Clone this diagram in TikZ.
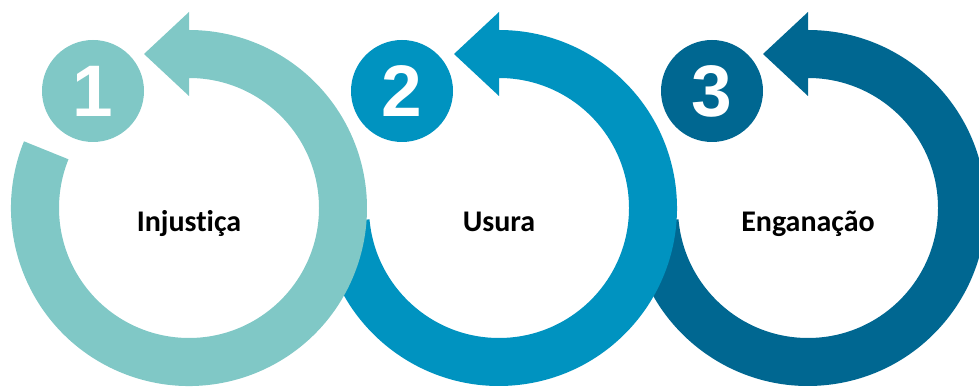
\documentclass[tikz,border=0pt]{standalone}
\usepackage{fontspec}
\setmainfont{Carlito}[Ligatures=NoCommon]
\newfontfamily\digitfont{Liberation Sans}
\usetikzlibrary{positioning}
\definecolor{ringone}{RGB}{128,200,198}
\definecolor{ringtwo}{RGB}{0,147,192}
\definecolor{ringthree}{RGB}{0,103,145}

\begin{document}
\begin{tikzpicture}[
    x=1pt, y=1pt,
    numdisc/.style={circle, inner sep=0pt, minimum size=102pt, text=white,
      font=\digitfont\bfseries\fontsize{73}{73}\selectfont},
    caption/.style={anchor=base, font=\bfseries\fontsize{30}{30}\selectfont},
  ]
  \useasboundingbox (0,0) rectangle (979,388);
  \coordinate (ring1) at (189,180);
  \coordinate (ring2) at (499,180);
  \coordinate (ring3) at (808,180);

  % circular arrows, right one first so the left one lies on top
  \foreach \cx/\col/\from in {808/ringthree/185, 499/ringtwo/185, 189/ringone/158}{
    \fill[\col] (\cx,180) ++(\from:178) arc[start angle=\from, end angle=450, radius=178]
      -- (\cx,376) -- (\cx-45,334) -- (\cx,292) -- (\cx,310)
      arc[start angle=450, end angle=\from, radius=130] -- cycle;
  }

  % number discs
  \node[numdisc, fill=ringone] (num1) at ([shift={(-96,117)}]ring1) {1};
  \node[numdisc, fill=ringtwo] (num2) at ([shift={(-97,117)}]ring2) {2};
  \node[numdisc, fill=ringthree] (num3) at ([shift={(-96,117)}]ring3) {3};

  % captions
  \node[caption] (lbl1) at ([yshift=-24pt]ring1) {Injustiça};
  \node[caption] (lbl2) at ([yshift=-24pt]ring2) {Usura};
  \node[caption] (lbl3) at ([yshift=-24pt]ring3) {Enganação};
\end{tikzpicture}
\end{document}
